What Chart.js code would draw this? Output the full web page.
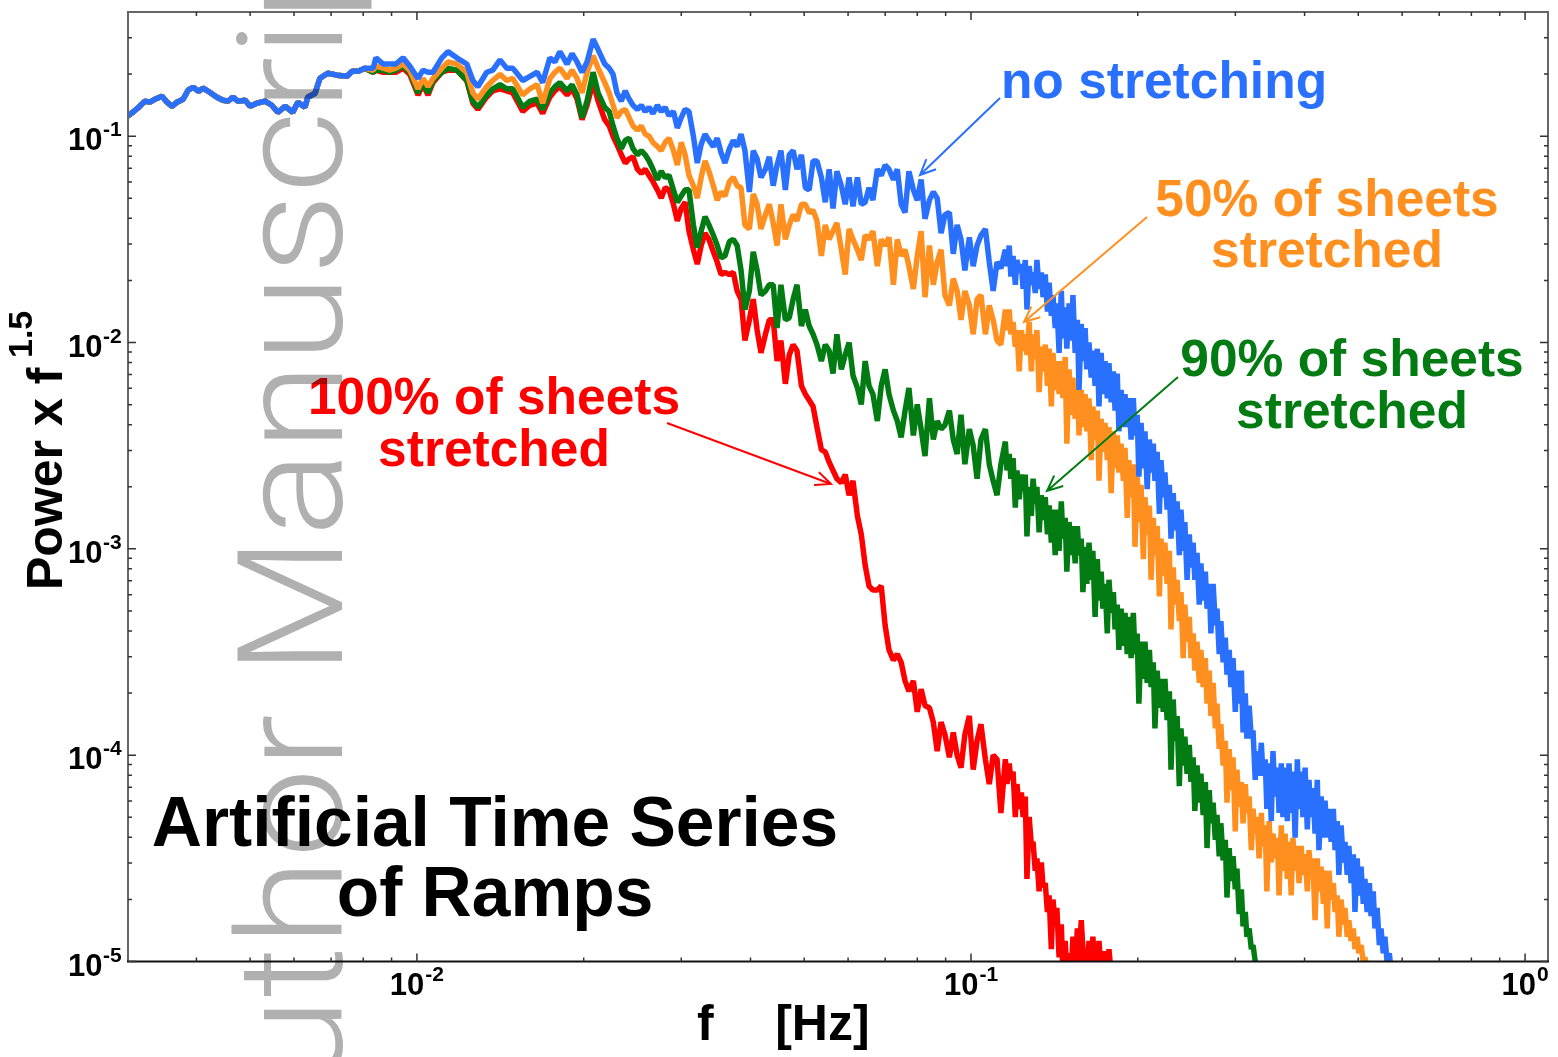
<!DOCTYPE html>
<html>
<head>
<meta charset="utf-8">
<title>Artificial Time Series of Ramps</title>
<script src="https://cdn.jsdelivr.net/npm/chart.js@4"></script>
<style>
    html, body { margin: 0; padding: 0; background: #fff; }
    canvas { display: block; }
</style>
</head>
<body>
<canvas id="spectrumChart" width="1558" height="1057"></canvas>
<script>
const logFreq = [
    -2.522,-2.513,-2.504,-2.491,-2.482,-2.473,-2.460,-2.451,-2.442,-2.433,
    -2.422,-2.413,-2.404,-2.394,-2.386,-2.374,-2.361,-2.350,-2.341,-2.332,
    -2.323,-2.310,-2.301,-2.289,-2.274,-2.262,-2.251,-2.238,-2.224,-2.215,
    -2.202,-2.197,-2.184,-2.175,-2.161,-2.144,-2.126,-2.117,-2.106,-2.094,
    -2.079,-2.074,-2.061,-2.049,-2.038,-2.025,-2.013,-1.998,-1.989,-1.980,
    -1.971,-1.955,-1.944,-1.928,-1.910,-1.899,-1.890,-1.874,-1.863,-1.850,
    -1.838,-1.827,-1.809,-1.796,-1.783,-1.773,-1.760,-1.751,-1.742,-1.729,
    -1.720,-1.711,-1.702,-1.693,-1.682,-1.673,-1.661,
    -1.653,-1.646,-1.639,-1.631,-1.624,-1.617,-1.610,-1.602,-1.595,-1.588,
    -1.581,-1.574,-1.566,-1.559,-1.552,-1.545,-1.537,-1.530,-1.523,-1.516,
    -1.509,-1.501,-1.494,-1.487,-1.480,-1.473,-1.465,-1.458,-1.451,-1.444,
    -1.436,-1.429,-1.422,-1.415,-1.408,-1.400,-1.393,-1.386,-1.379,-1.371,
    -1.364,-1.357,-1.350,-1.343,-1.335,-1.328,-1.321,-1.314,-1.306,-1.299,
    -1.292,-1.285,-1.278,-1.270,-1.263,-1.256,-1.249,-1.242,-1.234,-1.227,
    -1.220,-1.213,-1.205,-1.198,-1.191,-1.184,-1.177,-1.169,-1.162,-1.155,
    -1.148,-1.140,-1.133,-1.126,-1.119,-1.112,-1.104,-1.097,-1.090,-1.083,
    -1.075,-1.068,-1.061,-1.054,-1.047,-1.039,-1.032,-1.025,-1.018,-1.011,
    -1.003,-0.996,-0.989,-0.982,-0.974,-0.967,-0.960,-0.953,-0.946,
    // finer sampling where the noise band gets thick
    -0.938,-0.935,-0.931,-0.928,-0.924,-0.920,-0.917,-0.913,-0.909,-0.906,
    -0.902,-0.899,-0.895,-0.891,-0.888,-0.884,-0.881,-0.877,-0.873,-0.870,
    -0.866,-0.862,-0.859,-0.855,-0.852,-0.848,-0.845,-0.841,-0.837,-0.834,
    -0.830,-0.827,-0.823,-0.819,-0.816,-0.812,-0.808,-0.805,-0.801,-0.798,
    -0.794,-0.791,-0.787,-0.783,-0.780,-0.776,-0.772,-0.769,-0.765,-0.762,
    -0.758,-0.754,-0.751,-0.747,-0.743,-0.740,-0.736,-0.733,-0.729,-0.725,
    -0.722,-0.718,-0.715,-0.711,-0.707,-0.704,-0.700,-0.697,-0.693,-0.689,
    -0.686,-0.682,-0.678,-0.675,-0.671,-0.668,-0.664,-0.660,-0.657,-0.653,
    -0.650,-0.646,-0.642,-0.639,-0.635,-0.632,-0.628,-0.624,-0.621,-0.617,
    -0.614,-0.610,-0.606,-0.603,-0.599,-0.596,-0.592,-0.588,-0.585,-0.581,
    -0.577,-0.574,-0.570,-0.567,-0.563,-0.559,-0.556,-0.552,-0.549,-0.545,
    -0.541,-0.538,-0.534,-0.531,-0.527,-0.523,-0.520,-0.516,-0.512,-0.509,
    -0.505,-0.502,-0.498,-0.494,-0.491,-0.487,-0.484,-0.480,-0.476,-0.473,
    -0.469,-0.466,-0.462,-0.458,-0.455,-0.451,-0.447,-0.444,-0.440,-0.437,
    -0.433,-0.429,-0.426,-0.422,-0.419,-0.415,-0.411,-0.408,-0.404,-0.401,
    -0.397,-0.393,-0.390,-0.386,-0.383,-0.379,-0.375,-0.372,-0.368,-0.364,
    -0.361,-0.357,-0.354,-0.350,-0.346,-0.343,-0.339,-0.336,-0.332,-0.328,
    -0.325,-0.321,-0.318,-0.314,-0.310,-0.307,-0.303,-0.300,-0.296,-0.292,
    -0.289,-0.285,-0.281,-0.278,-0.274,-0.271,-0.267,-0.263,-0.260,-0.256,
    -0.253,-0.249,-0.245,-0.242,-0.238
];

// the four runs are the same below about 0.008 Hz
const logLowBand = [
    -0.903,-0.884,-0.864,-0.830,-0.835,-0.821,-0.806,-0.835,-0.855,-0.835,
    -0.821,-0.777,-0.763,-0.782,-0.767,-0.787,-0.811,-0.826,-0.830,-0.811,
    -0.830,-0.826,-0.855,-0.840,-0.830,-0.850,-0.884,-0.855,-0.884,-0.835,
    -0.859,-0.811,-0.792,-0.719,-0.695,-0.704,-0.709,-0.685,-0.685,-0.671
];

const logNoStretch = [
    -0.67,-0.62,-0.65,-0.65,-0.65,-0.62,-0.66,-0.72,-0.68,-0.69,-0.69,-0.62,-0.59,-0.62,-0.65,-0.73,-0.76,-0.69,-0.68,-0.63,
    -0.67,-0.67,-0.73,-0.71,-0.69,-0.74,-0.62,-0.64,-0.59,-0.65,-0.60,-0.64,-0.69,-0.64,-0.53,-0.58,-0.65,
    -0.67,-0.70,-0.79,-0.83,-0.78,-0.82,-0.85,-0.87,-0.85,-0.88,
    -0.86,-0.89,-0.85,-0.88,-0.86,-0.90,-0.88,-0.96,-0.91,-0.87,
    -0.88,-1.00,-1.13,-1.04,-0.99,-1.02,-1.05,-1.01,-1.08,-1.13,
    -1.06,-1.02,-1.05,-0.99,-1.07,-1.27,-1.07,-1.11,-1.20,-1.16,
    -1.10,-1.24,-1.14,-1.07,-1.26,-1.09,-1.07,-1.16,-1.09,-1.25,
    -1.26,-1.12,-1.12,-1.20,-1.32,-1.16,-1.35,-1.17,-1.24,-1.33,
    -1.20,-1.34,-1.20,-1.33,-1.32,-1.25,-1.31,-1.16,-1.19,-1.14,
    -1.16,-1.21,-1.16,-1.33,-1.37,-1.17,-1.26,-1.31,-1.21,-1.40,
    -1.31,-1.27,-1.30,-1.47,-1.38,-1.37,-1.57,-1.43,-1.50,-1.65,
    -1.49,-1.63,-1.53,-1.48,-1.45,-1.61,-1.75,-1.61,-1.64,
    -1.55,-1.63,-1.53,-1.68,-1.58,-1.72,-1.60,-1.66,-1.62,-1.74,-1.60,-1.84,-1.63,-1.72,-1.66,-1.76,-1.60,-1.74,-1.66,-1.78,
    -1.67,-1.85,-1.71,-1.87,-1.77,-1.93,-1.81,-2.05,-1.75,-1.98,-1.83,-2.03,-1.81,-1.99,-1.77,-2.05,-1.89,-2.23,-1.91,-2.09,
    -1.93,-2.13,-2.00,-2.17,-2.04,-2.21,-2.03,-2.31,-2.05,-2.25,-2.09,-2.27,-2.10,-2.29,-2.14,-2.33,-2.15,-2.43,-2.23,-2.41,
    -2.25,-2.41,-2.27,-2.47,-2.27,-2.45,-2.35,-2.65,-2.39,-2.61,-2.43,-2.71,-2.47,-2.63,-2.49,-2.67,-2.53,-2.83,-2.57,-2.75,
    -2.63,-2.81,-2.69,-2.95,-2.73,-2.91,-2.77,-3.03,-2.81,-3.01,-2.87,-3.15,-2.93,-3.09,-2.97,-3.15,-3.02,-3.27,-3.07,-3.25,
    -3.11,-3.29,-3.17,-3.41,-3.17,-3.37,-3.29,-3.51,-3.35,-3.55,-3.43,-3.61,-3.49,-3.67,-3.53,-3.79,-3.59,-3.75,-3.59,-3.89,
    -3.70,-3.92,-3.76,-3.92,-3.88,-4.12,-3.98,-4.10,-3.94,-4.10,-4.02,-4.26,-4.04,-4.32,-3.98,-4.20,-4.06,-4.28,-4.04,-4.30,
    -4.06,-4.32,-4.04,-4.28,-4.08,-4.40,-4.02,-4.26,-4.08,-4.30,-4.06,-4.36,-4.12,-4.30,-4.16,-4.38,-4.12,-4.46,-4.20,-4.40,
    -4.22,-4.40,-4.26,-4.42,-4.26,-4.46,-4.32,-4.58,-4.34,-4.52,-4.42,-4.58,-4.44,-4.62,-4.48,-4.76,-4.50,-4.68,-4.54,-4.72,
    -4.60,-4.76,-4.62,-4.78,-4.66,-4.84,-4.74,-4.92,-4.84,-4.96,-4.88,-5.00,-4.96,-5.04,-5.04
];

const logStretch50 = [
    -0.68,-0.66,-0.67,-0.68,-0.67,-0.65,-0.68,-0.77,-0.72,-0.76,-0.72,-0.67,-0.64,-0.65,-0.69,-0.79,-0.82,-0.76,-0.73,-0.70,
    -0.73,-0.72,-0.80,-0.77,-0.75,-0.84,-0.72,-0.69,-0.67,-0.72,-0.68,-0.72,-0.79,-0.69,-0.61,-0.67,-0.74,
    -0.79,-0.85,-0.91,-0.88,-0.87,-0.91,-0.95,-0.97,-0.95,-0.99,
    -1.00,-1.03,-1.05,-1.07,-1.03,-1.01,-1.07,-1.14,-1.03,-1.09,
    -1.19,-1.24,-1.30,-1.20,-1.12,-1.17,-1.24,-1.31,-1.27,-1.29,
    -1.22,-1.20,-1.24,-1.25,-1.43,-1.45,-1.28,-1.33,-1.45,-1.38,
    -1.33,-1.42,-1.53,-1.33,-1.50,-1.43,-1.38,-1.41,-1.33,-1.33,
    -1.37,-1.36,-1.41,-1.58,-1.43,-1.50,-1.46,-1.42,-1.55,-1.67,
    -1.45,-1.50,-1.55,-1.60,-1.48,-1.50,-1.46,-1.63,-1.50,-1.53,
    -1.49,-1.72,-1.50,-1.58,-1.55,-1.63,-1.74,-1.58,-1.46,-1.78,
    -1.53,-1.72,-1.61,-1.55,-1.77,-1.82,-1.69,-1.75,-1.89,-1.75,
    -1.82,-1.96,-1.79,-1.77,-1.96,-1.82,-1.89,-1.99,-2.01,
    -1.84,-1.94,-1.84,-1.96,-1.90,-2.02,-1.94,-2.14,-1.94,-2.04,-1.96,-2.06,-1.90,-2.14,-1.96,-2.08,-1.94,-2.24,-2.02,-2.14,
    -2.01,-2.21,-2.03,-2.31,-2.05,-2.23,-2.09,-2.25,-2.09,-2.27,-2.07,-2.49,-2.13,-2.35,-2.17,-2.37,-2.19,-2.45,-2.23,-2.41,
    -2.25,-2.43,-2.27,-2.57,-2.31,-2.47,-2.33,-2.67,-2.37,-2.53,-2.39,-2.57,-2.41,-2.73,-2.43,-2.61,-2.45,-2.63,-2.49,-2.67,
    -2.51,-2.85,-2.57,-2.75,-2.59,-2.99,-2.65,-2.87,-2.69,-3.05,-2.75,-2.93,-2.79,-3.15,-2.85,-3.03,-2.89,-3.23,-2.95,-3.13,
    -2.97,-3.17,-3.01,-3.39,-3.09,-3.27,-3.15,-3.35,-3.21,-3.53,-3.27,-3.45,-3.33,-3.53,-3.41,-3.59,-3.45,-3.65,-3.49,-3.67,
    -3.53,-3.75,-3.59,-3.81,-3.65,-3.87,-3.75,-3.97,-3.85,-4.05,-3.93,-4.23,-3.97,-4.17,-4.01,-4.37,-4.07,-4.25,-4.13,-4.33,
    -4.14,-4.28,-4.20,-4.46,-4.26,-4.38,-4.30,-4.50,-4.28,-4.44,-4.34,-4.66,-4.32,-4.52,-4.38,-4.50,-4.40,-4.68,-4.34,-4.56,
    -4.38,-4.60,-4.42,-4.68,-4.40,-4.56,-4.44,-4.62,-4.44,-4.58,-4.48,-4.66,-4.46,-4.60,-4.50,-4.80,-4.50,-4.66,-4.54,-4.72,
    -4.56,-4.84,-4.56,-4.70,-4.62,-4.76,-4.68,-4.88,-4.70,-4.82,-4.74,-4.88,-4.80,-4.90,-4.84,-4.94,-4.88,-4.96,-4.92,-5.00,
    -4.98,-5.04
];

const logStretch90 = [
    -0.69,-0.68,-0.68,-0.69,-0.68,-0.66,-0.69,-0.79,-0.74,-0.79,-0.73,-0.69,-0.67,-0.68,-0.73,-0.83,-0.86,-0.80,-0.77,-0.75,
    -0.77,-0.77,-0.86,-0.83,-0.82,-0.87,-0.79,-0.76,-0.74,-0.78,-0.75,-0.80,-0.91,-0.83,-0.69,-0.79,-0.86,
    -0.88,-0.95,-1.01,-1.06,-1.02,-1.01,-1.06,-1.09,-1.07,-1.09,
    -1.12,-1.16,-1.21,-1.17,-1.20,-1.19,-1.26,-1.32,-1.29,-1.26,
    -1.26,-1.43,-1.54,-1.46,-1.39,-1.43,-1.48,-1.53,-1.59,-1.58,
    -1.51,-1.50,-1.53,-1.65,-1.84,-1.75,-1.56,-1.65,-1.77,-1.75,
    -1.72,-1.72,-1.93,-1.72,-1.89,-1.88,-1.79,-1.72,-1.92,-1.84,
    -1.92,-1.96,-2.01,-2.09,-2.01,-2.04,-2.15,-1.96,-2.13,-2.06,
    -2.00,-2.16,-2.22,-2.30,-2.09,-2.21,-2.25,-2.38,-2.21,-2.13,
    -2.25,-2.33,-2.38,-2.46,-2.33,-2.22,-2.45,-2.30,-2.42,-2.55,
    -2.27,-2.47,-2.38,-2.42,-2.40,-2.33,-2.47,-2.54,-2.35,-2.59,
    -2.42,-2.50,-2.66,-2.47,-2.42,-2.59,-2.67,-2.74,-2.59,
    -2.48,-2.62,-2.54,-2.66,-2.56,-2.80,-2.62,-2.76,-2.64,-2.72,-2.64,-2.94,-2.70,-2.84,-2.66,-2.78,-2.70,-2.92,-2.74,-2.86,
    -2.75,-2.93,-2.79,-2.97,-2.81,-3.03,-2.81,-3.01,-2.77,-2.95,-2.85,-3.11,-2.87,-3.03,-2.89,-3.07,-2.89,-3.03,-2.95,-3.21,
    -2.99,-3.17,-2.97,-3.15,-3.01,-3.33,-3.05,-3.25,-3.11,-3.29,-3.17,-3.41,-3.15,-3.31,-3.21,-3.39,-3.27,-3.49,-3.29,-3.47,
    -3.31,-3.51,-3.33,-3.53,-3.31,-3.51,-3.41,-3.75,-3.45,-3.63,-3.45,-3.65,-3.49,-3.67,-3.55,-3.87,-3.59,-3.77,-3.63,-3.79,
    -3.63,-3.83,-3.69,-4.07,-3.73,-3.93,-3.81,-4.15,-3.87,-4.05,-3.91,-4.09,-3.95,-4.13,-4.01,-4.27,-4.05,-4.23,-4.09,-4.29,
    -4.13,-4.45,-4.17,-4.33,-4.23,-4.41,-4.29,-4.49,-4.33,-4.51,-4.41,-4.69,-4.45,-4.61,-4.49,-4.65,-4.55,-4.77,-4.65,-4.83,
    -4.76,-4.88,-4.84,-4.94,-4.92,-5.00,-5.04
];

const logStretch100 = [
    -0.69,-0.68,-0.69,-0.69,-0.69,-0.67,-0.70,-0.80,-0.75,-0.80,-0.74,-0.69,-0.68,-0.68,-0.73,-0.84,-0.87,-0.81,-0.78,-0.77,
    -0.78,-0.79,-0.88,-0.85,-0.84,-0.89,-0.81,-0.78,-0.76,-0.80,-0.77,-0.82,-0.92,-0.85,-0.74,-0.83,-0.92,
    -0.95,-1.00,-1.04,-1.09,-1.13,-1.11,-1.10,-1.16,-1.18,-1.16,
    -1.19,-1.22,-1.26,-1.30,-1.25,-1.26,-1.33,-1.41,-1.35,-1.32,
    -1.46,-1.55,-1.62,-1.53,-1.47,-1.50,-1.56,-1.61,-1.67,-1.66,
    -1.67,-1.66,-1.75,-1.79,-1.99,-1.89,-1.79,-1.94,-2.05,-1.96,
    -1.89,-1.89,-2.09,-1.99,-2.20,-2.06,-2.01,-2.04,-2.21,-2.25,
    -2.28,-2.31,-2.41,-2.52,-2.53,-2.58,-2.62,-2.66,-2.68,-2.64,
    -2.74,-2.67,-2.84,-2.93,-3.08,-3.18,-3.20,-3.20,-3.18,-3.37,
    -3.49,-3.54,-3.51,-3.55,-3.64,-3.69,-3.64,-3.79,-3.68,-3.76,
    -3.77,-3.84,-3.98,-3.84,-3.90,-4.01,-3.89,-4.00,-4.06,-3.90,
    -3.81,-4.07,-3.93,-3.85,-4.02,-4.14,-4.00,-4.02,-4.28,
    -4.02,-4.14,-4.04,-4.12,-4.08,-4.30,-4.14,-4.26,-4.18,-4.30,-4.20,-4.60,-4.30,-4.44,-4.42,-4.56,-4.50,-4.66,-4.52,-4.64,
    -4.62,-4.76,-4.68,-4.94,-4.70,-4.82,-4.74,-4.98,-4.82,-5.06,-4.90,-5.06,-4.96,-5.06,-4.88,-5.06,-4.84,-5.00,-4.80,-4.94,
    -5.06,-5.06,-4.90,-5.02,-4.88,-5.06,-5.06,-4.90,-5.06,-5.06,-4.95,-5.06,-4.94,-5.06
];

const xMajorTicks = [0.01, 0.1, 1];
const xMinorTicks = [0.004, 0.005, 0.006, 0.007, 0.008, 0.009, 0.02, 0.03, 0.04, 0.05, 0.06, 0.07, 0.08, 0.09, 0.2, 0.3, 0.4, 0.5, 0.6, 0.7, 0.8, 0.9];
const yMajorTicks = [0.1, 0.01, 0.001, 0.0001, 0.00001];
const yMinorTicks = [0.3, 0.2, 0.09, 0.08, 0.07, 0.06, 0.05, 0.04, 0.03, 0.02,
    0.009, 0.008, 0.007, 0.006, 0.005, 0.004, 0.003, 0.002,
    0.0009, 0.0008, 0.0007, 0.0006, 0.0005, 0.0004, 0.0003, 0.0002,
    0.00009, 0.00008, 0.00007, 0.00006, 0.00005, 0.00004, 0.00003, 0.00002];
const exponents = { 0.01: '-2', 0.1: '-1', 1: '0', 0.001: '-3', 0.0001: '-4', 0.00001: '-5' };

const BLUE = '#2970ff';
const ORANGE = '#ff9020';
const GREEN = '#027c12';
const RED = '#ff0000';

function toPoints(lowBand, values) {
    const all = lowBand.concat(values);
    return all.map((v, i) => ({ x: Math.pow(10, logFreq[i]), y: Math.pow(10, v) }));
}

function drawArrow(ctx, color, x1, y1, x2, y2) {
    const angle = Math.atan2(y2 - y1, x2 - x1);
    ctx.strokeStyle = color;
    ctx.lineWidth = 2;
    ctx.beginPath();
    ctx.moveTo(x1, y1);
    ctx.lineTo(x2, y2);
    ctx.moveTo(x2 - 17 * Math.cos(angle - 0.42), y2 - 17 * Math.sin(angle - 0.42));
    ctx.lineTo(x2, y2);
    ctx.lineTo(x2 - 17 * Math.cos(angle + 0.42), y2 - 17 * Math.sin(angle + 0.42));
    ctx.stroke();
}

function drawCentered(ctx, color, font, lines) {
    ctx.fillStyle = color;
    ctx.font = font;
    ctx.textAlign = 'center';
    lines.forEach(l => ctx.fillText(l[0], l[1], l[2]));
}

const figurePlugin = {
    id: 'figureExtras',
    afterDraw(chart) {
        const ctx = chart.ctx;
        const area = chart.chartArea;
        const xs = chart.scales.x;
        const ys = chart.scales.y;
        ctx.save();

        // frame
        ctx.lineWidth = 2;
        ctx.strokeStyle = '#666';
        ctx.beginPath();
        ctx.moveTo(area.left, area.bottom);
        ctx.lineTo(area.left, area.top);
        ctx.lineTo(area.right, area.top);
        ctx.lineTo(area.right, area.bottom);
        ctx.stroke();
        ctx.strokeStyle = '#111';
        ctx.beginPath();
        ctx.moveTo(area.left - 1, area.bottom);
        ctx.lineTo(area.right + 1, area.bottom);
        ctx.stroke();

        // inward ticks on all four sides
        ctx.strokeStyle = '#333';
        ctx.lineWidth = 1.5;
        const xTick = (v, len) => {
            const p = xs.getPixelForValue(v);
            ctx.beginPath();
            ctx.moveTo(p, area.bottom);
            ctx.lineTo(p, area.bottom - len);
            ctx.moveTo(p, area.top);
            ctx.lineTo(p, area.top + len);
            ctx.stroke();
        };
        const yTick = (v, len) => {
            const p = ys.getPixelForValue(v);
            ctx.beginPath();
            ctx.moveTo(area.left, p);
            ctx.lineTo(area.left + len, p);
            ctx.moveTo(area.right, p);
            ctx.lineTo(area.right - len, p);
            ctx.stroke();
        };
        xMajorTicks.forEach(v => xTick(v, 8));
        xMinorTicks.forEach(v => xTick(v, 4));
        yMajorTicks.forEach(v => yTick(v, 8));
        yMinorTicks.forEach(v => yTick(v, 4));

        // tick labels, power of ten with a raised exponent
        const baseFont = 'bold 31px "Liberation Sans"';
        const expFont = 'bold 21px "Liberation Sans"';
        ctx.fillStyle = '#000';
        ctx.textAlign = 'left';
        yMajorTicks.forEach(v => {
            const p = ys.getPixelForValue(v);
            ctx.font = baseFont;
            ctx.fillText('10', 68, p + 14);
            ctx.font = expFont;
            ctx.fillText(exponents[v], 103, p);
        });
        xMajorTicks.forEach(v => {
            const p = xs.getPixelForValue(v);
            ctx.font = expFont;
            const expWidth = ctx.measureText(exponents[v]).width;
            ctx.font = baseFont;
            const left = p - (34.5 + 1 + expWidth) / 2;
            ctx.fillText('10', left, 995);
            ctx.font = expFont;
            ctx.fillText(exponents[v], left + 35.5, 981);
        });

        // axis titles
        ctx.font = 'bold 50px "Liberation Sans"';
        ctx.wordSpacing = '1.5px';
        ctx.fillText('f    [Hz]', 697, 1040);
        ctx.wordSpacing = '0px';
        ctx.save();
        ctx.translate(62, 590);
        ctx.rotate(-Math.PI / 2);
        ctx.fillText('Power x f', 0, 0);
        ctx.restore();
        ctx.save();
        ctx.translate(32, 358);
        ctx.rotate(-Math.PI / 2);
        ctx.font = 'bold 34px "Liberation Sans"';
        ctx.fillText('1.5', 0, 0);
        ctx.restore();

        // annotations
        const noteFont = 'bold 51.5px "Liberation Sans"';
        drawCentered(ctx, BLUE, noteFont, [['no stretching', 1164, 98]]);
        drawCentered(ctx, ORANGE, noteFont, [['50% of sheets', 1327, 216], ['stretched', 1327, 267]]);
        drawCentered(ctx, GREEN, noteFont, [['90% of sheets', 1352, 376], ['stretched', 1352, 428]]);
        drawCentered(ctx, RED, noteFont, [['100% of sheets', 494, 414], ['stretched', 494, 466]]);
        drawCentered(ctx, '#000', 'bold 69.5px "Liberation Sans"', [['Artificial Time Series', 495, 846], ['of Ramps', 495, 916]]);

        drawArrow(ctx, BLUE, 1000, 98, 920, 175);
        drawArrow(ctx, ORANGE, 1147, 217, 1024, 322);
        drawArrow(ctx, GREEN, 1178, 377, 1047, 491);
        drawArrow(ctx, RED, 667, 423, 831, 484);

        // watermark lies over the whole page, darkening what it crosses
        ctx.globalCompositeOperation = 'multiply';
        ctx.translate(342, 1185);
        ctx.rotate(-Math.PI / 2);
        ctx.scale(1.09, 1);
        ctx.fillStyle = '#b0b0b0';
        ctx.textAlign = 'left';
        ctx.font = '350 147px Roboto';
        ctx.fillText('Author Manuscript', 0, 0);
        ctx.restore();
    }
};

new Chart(document.getElementById('spectrumChart').getContext('2d'), {
    type: 'line',
    data: {
        // first dataset is painted last, so the blue run stays on top
        datasets: [
            { label: 'no stretching', data: toPoints(logLowBand, logNoStretch), borderColor: BLUE },
            { label: '50% of sheets stretched', data: toPoints(logLowBand, logStretch50), borderColor: ORANGE },
            { label: '90% of sheets stretched', data: toPoints(logLowBand, logStretch90), borderColor: GREEN },
            { label: '100% of sheets stretched', data: toPoints(logLowBand, logStretch100), borderColor: RED }
        ].map(d => Object.assign(d, {
            borderWidth: 5.5,
            pointRadius: 0,
            tension: 0,
            borderJoinStyle: 'bevel',
            fill: false
        }))
    },
    options: {
        responsive: false,
        animation: false,
        layout: { padding: { left: 128, right: 10, top: 12, bottom: 95.5 } },
        plugins: { legend: { display: false }, tooltip: { enabled: false } },
        scales: {
            x: {
                type: 'logarithmic',
                min: 0.00301,
                max: 1.1,
                grid: { display: false, drawTicks: false },
                border: { display: false },
                ticks: { display: false }
            },
            y: {
                type: 'logarithmic',
                min: 0.00001,
                max: 0.4,
                grid: { display: false, drawTicks: false },
                border: { display: false },
                ticks: { display: false }
            }
        }
    },
    plugins: [figurePlugin]
});
</script>
</body>
</html>
